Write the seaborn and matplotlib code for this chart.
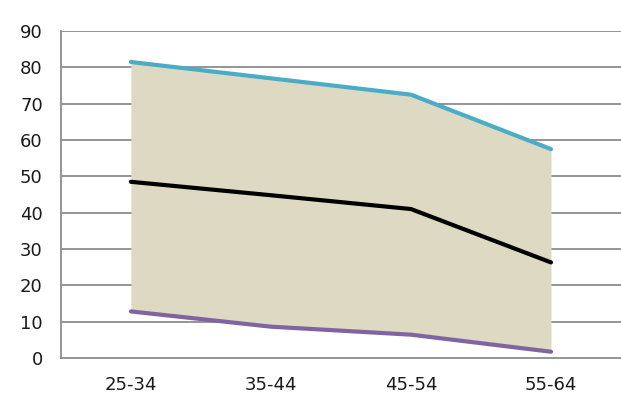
import matplotlib
matplotlib.use("Agg")
import matplotlib.pyplot as plt
import seaborn as sns
import pandas as pd

# data
age_groups = ["25-34", "35-44", "45-54", "55-64"]
upper = [81.5, 77.0, 72.5, 57.5]
middle = [48.5, 44.8, 41.0, 26.3]
lower = [12.8, 8.6, 6.4, 1.7]

df = pd.DataFrame({"age": age_groups, "upper": upper, "middle": middle, "lower": lower})
pos = list(range(len(age_groups)))

sns.set_style("white")
plt.rcParams['font.family'] = ['DejaVu Sans']

fig = plt.figure(figsize=(6.21, 3.99), dpi=100)
ax = fig.add_axes([0.098, 0.103, 0.902, 0.819])

grid_col = "#8c8c8c"
for v in range(10, 100, 10):
    ax.axhline(v, color=grid_col, lw=1.3, zorder=0)

ax.fill_between(pos, df["lower"], df["upper"], color="#DDD9C3", lw=0, zorder=1)
sns.lineplot(data=df, x="age", y="upper", color="#4BACC6", lw=3.0, ax=ax, zorder=3, sort=False)
sns.lineplot(data=df, x="age", y="middle", color="black", lw=3.0, ax=ax, zorder=3, sort=False)
sns.lineplot(data=df, x="age", y="lower", color="#8064A2", lw=3.0, ax=ax, zorder=3, sort=False)

ax.set_xlim(-0.5, 3.5)
ax.set_ylim(0, 90)
ax.set_yticks(range(0, 100, 10))
ax.set_xticks(pos)
ax.set_xticklabels(age_groups)
ax.set_xticks([-0.5, 0.5, 1.5, 2.5, 3.5], minor=True)
ax.set_xlabel("")
ax.set_ylabel("")

for s in ["top", "right"]:
    ax.spines[s].set_visible(False)
for s in ["left", "bottom"]:
    ax.spines[s].set_color(grid_col)
    ax.spines[s].set_linewidth(1.3)

ax.tick_params(axis="x", which="major", length=0, pad=13, labelsize=13, colors="#1a1a1a")
ax.tick_params(axis="x", which="minor", length=7, width=1.3, color=grid_col, direction="out")
ax.tick_params(axis="y", length=7, width=1.3, color=grid_col, direction="out", pad=6,
               labelsize=13, labelcolor="#1a1a1a")

fig.savefig("out.png", dpi=100)
